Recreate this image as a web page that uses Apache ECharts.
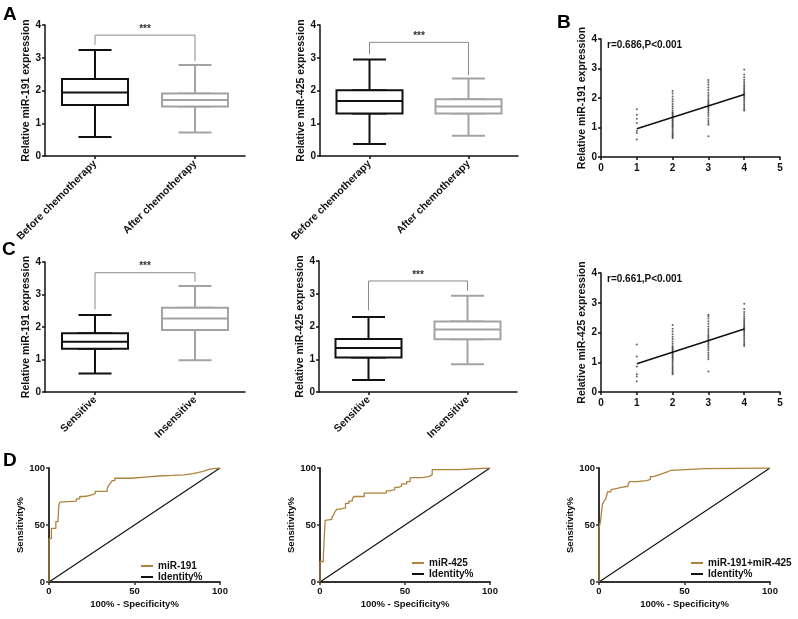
<!DOCTYPE html>
<html>
<head>
<meta charset="utf-8">
<title>miR-191 / miR-425</title>
<script src="https://cdn.jsdelivr.net/npm/echarts@6/dist/echarts.min.js"></script>
</head>
<body style="margin:0;background:#fff">
<div id="main" style="width:798px;height:619px;"></div>
<script>
// ---- values ----
var chemoCats = ['Before chemotherapy', 'After chemotherapy'];
var respCats = ['Sensitive', 'Insensitive'];

// boxes: [min, Q1, median, Q3, max]
var box191Chemo = [[0.58, 1.56, 1.94, 2.35, 3.24], [0.72, 1.51, 1.71, 1.91, 2.78]];
var box425Chemo = [[0.37, 1.30, 1.68, 2.01, 2.95], [0.62, 1.30, 1.51, 1.73, 2.37]];
var box191Resp = [[0.57, 1.33, 1.55, 1.81, 2.37], [0.98, 1.91, 2.26, 2.59, 3.26]];
var box425Resp = [[0.37, 1.05, 1.34, 1.62, 2.29], [0.85, 1.61, 1.91, 2.15, 2.94]];

// significance brackets: [left foot, bar, right foot]
var br191Chemo = [3.39, 3.69, 2.90];
var br425Chemo = [3.10, 3.47, 2.47];
var br191Resp = [2.54, 3.67, 3.39];
var br425Resp = [2.49, 3.39, 3.09];

// correlation panels, one list of y per grade
var grades = [1, 2, 3, 4];
var scat191 = [
    [0.59, 0.81, 0.89, 1.15, 1.30, 1.43, 1.62],
    [0.64, 0.68, 0.72, 0.76, 0.80, 0.85, 0.90, 0.95, 1.00, 1.04, 1.08, 1.12, 1.16, 1.20, 1.24, 1.28, 1.32, 1.36, 1.40, 1.44, 1.48, 1.52, 1.58, 1.65, 1.72, 1.80, 1.88, 1.96, 2.05, 2.15, 2.24],
    [0.70, 1.09, 1.15, 1.22, 1.30, 1.38, 1.45, 1.52, 1.58, 1.63, 1.68, 1.72, 1.76, 1.80, 1.85, 1.90, 1.96, 2.03, 2.10, 2.18, 2.27, 2.36, 2.45, 2.53, 2.61],
    [1.58, 1.62, 1.67, 1.73, 1.79, 1.85, 1.91, 1.97, 2.02, 2.07, 2.11, 2.15, 2.19, 2.23, 2.28, 2.33, 2.38, 2.43, 2.49, 2.55, 2.62, 2.70, 2.80, 2.97]
];
var scat425 = [
    [0.36, 0.52, 0.60, 0.86, 1.19, 1.60],
    [0.60, 0.64, 0.68, 0.73, 0.78, 0.83, 0.88, 0.94, 1.00, 1.05, 1.10, 1.14, 1.18, 1.22, 1.26, 1.30, 1.34, 1.38, 1.42, 1.46, 1.50, 1.55, 1.62, 1.70, 1.78, 1.86, 1.94, 2.03, 2.13, 2.25],
    [0.69, 1.10, 1.17, 1.24, 1.32, 1.40, 1.47, 1.53, 1.59, 1.64, 1.69, 1.73, 1.77, 1.82, 1.87, 1.92, 1.98, 2.05, 2.12, 2.20, 2.29, 2.38, 2.47, 2.55, 2.60],
    [1.55, 1.60, 1.65, 1.71, 1.77, 1.83, 1.89, 1.95, 2.01, 2.06, 2.10, 2.14, 2.18, 2.22, 2.27, 2.32, 2.37, 2.42, 2.48, 2.54, 2.61, 2.69, 2.79, 2.97]
];
var fit191 = [[1, 0.96], [4, 2.12]];
var fit425 = [[1, 0.95], [4, 2.12]];
var r191 = 'r=0.686,P<0.001';
var r425 = 'r=0.661,P<0.001';

// ROC curves, [100-specificity, sensitivity]
var roc191 = [[0,0],[0,38],[1.4,38],[1.4,47],[4,47],[4,53],[5.3,53],[5.3,56],[5.8,56],[5.8,68],[6.4,68],[6.4,70],[7.5,70],[7.5,71],
    [16,71],[16,73],[18,73],[18,75],[21,75],[21,76],[24,76],[24,77.5],[27,77.5],[27,79.5],[34,79.5],[34,82],[35,82],[35,85],[36,85],
    [36,87],[37,87],[37,89],[38.5,89],[38.5,91],[48,91],[48,92],[56,92],[56,93],[64,93],[64,93.5],[72,93.5],[72,94],[79,94],[79,95],
    [84,95],[84,96],[87,96],[87,97],[90,97],[90,98.5],[93,98.5],[93,99.4],[96,99.4],[96,100],[100,100]];
var roc425 = [[0,0],[0,18],[2,18],[2,23],[3,23],[3,54],[4,54],[4,55],[7,55],[7,57],[8,57],[8,59],[9,59],[9,62],[10,62],[10,64],
    [12,64],[12,65],[15,65],[15,69],[17,69],[17,71],[19,71],[19,73],[20,73],[20,75],[26,75],[26,78],[39,78],[39,80],[41,80],[41,81],
    [44,81],[44,83],[46,83],[46,84],[48,84],[48,86],[51,86],[51,88],[53,88],[53,91.5],[60,91.5],[60,92.5],[64,92.5],[64,94],[66,94],
    [66,98.5],[82,98.5],[82,100],[100,100]];
var rocBoth = [[0,0],[0,47],[1,47],[1,54],[1.5,54],[1.5,62],[2,62],[2,68],[3,68],[3,71],[4,71],[4,73],[4.5,73],[4.5,76],[5,76],
    [5,79],[7,79],[7,81],[8,81],[8,82],[10,82],[10,83],[13,83],[13,84],[17,84],[17,86],[18,86],[18,88],[22,88],[22,89],[28,89],
    [28,90],[30,90],[30,92.5],[32,92.5],[32,94],[35,94],[35,95],[37,95],[37,96.5],[40,96.5],[40,98],[42,98],[42,99.4],[62,99.4],
    [62,100],[100,100]];
var identity = [[0, 0], [100, 100]];

// ---- drawing ----
var FONT = '"Liberation Sans", Arial, sans-serif';
var INK = '#111';
var boxInk = ['#111', '#a3a3a3'];
var rocInk = '#b0823f';

var chart = echarts.init(document.getElementById('main'));

var grids = [], xAxes = [], yAxes = [], series = [], legends = [], graphics = [], stars = [];

function merge(a, b) {
    for (var k in b) {
        if (b[k] && typeof b[k] === 'object' && !Array.isArray(b[k]) && a[k] && typeof a[k] === 'object') {
            merge(a[k], b[k]);
        } else {
            a[k] = b[k];
        }
    }
    return a;
}

function axisStyle(extra) {
    return merge({
        axisLine: {show: true, onZero: false, lineStyle: {color: INK, width: 1.5}},
        axisTick: {show: true, length: 3, lineStyle: {color: INK, width: 1.5}},
        axisLabel: {color: INK, fontSize: 10, fontWeight: 'bold', fontFamily: FONT, margin: 4},
        splitLine: {show: false},
        nameLocation: 'middle',
        nameTextStyle: {color: INK, fontSize: 10.5, fontWeight: 'bold', fontFamily: FONT}
    }, extra);
}

function addBoxPanel(rect, cats, vals, bracket, yName) {
    var g = grids.length, xi = xAxes.length, yi = yAxes.length;
    grids.push(rect);
    xAxes.push(axisStyle({
        type: 'category', gridIndex: g, data: cats,
        axisTick: {alignWithLabel: true},
        axisLabel: {rotate: 45, interval: 0, fontSize: 10.5, margin: 6}
    }));
    // hidden twin axis so the whisker layer is not laid out side by side with the boxes
    xAxes.push({type: 'category', gridIndex: g, data: cats, show: false});
    yAxes.push(axisStyle({
        type: 'value', gridIndex: g, min: 0, max: 4, interval: 1,
        name: yName, nameGap: 12
    }));
    // whiskers and caps
    series.push({
        type: 'boxplot', xAxisIndex: xi + 1, yAxisIndex: yi, boxWidth: [33, 33], silent: true,
        itemStyle: {color: '#fff', borderWidth: 2},
        data: vals.map(function (v, k) { return {value: v, itemStyle: {borderColor: boxInk[k]}}; })
    });
    // the wider box drawn over it
    series.push({
        type: 'boxplot', xAxisIndex: xi, yAxisIndex: yi, boxWidth: [66, 66], silent: true,
        itemStyle: {color: '#fff', borderWidth: 2},
        data: vals.map(function (v, k) {
            return {value: [v[1], v[1], v[2], v[3], v[3]], itemStyle: {borderColor: boxInk[k]}};
        })
    });
    series.push({
        type: 'line', xAxisIndex: xi, yAxisIndex: yi, symbol: 'none', silent: true,
        lineStyle: {color: '#8a8a8a', width: 1},
        data: [[0, bracket[0]], [0, bracket[1]], [1, bracket[1]], [1, bracket[2]]]
    });
    stars.push({xi: xi, yi: yi, y: bracket[1]});
}

function addScatterPanel(rect, cols, fit, yName, rText) {
    var g = grids.length, xi = xAxes.length, yi = yAxes.length;
    grids.push(rect);
    xAxes.push(axisStyle({type: 'value', gridIndex: g, min: 0, max: 5, interval: 1, axisLabel: {margin: 6}}));
    yAxes.push(axisStyle({type: 'value', gridIndex: g, min: 0, max: 4, interval: 1, name: yName, nameGap: 12}));
    var pts = [];
    cols.forEach(function (col, k) {
        col.forEach(function (y) { pts.push([grades[k], y]); });
    });
    series.push({
        type: 'scatter', xAxisIndex: xi, yAxisIndex: yi, symbolSize: 2, silent: true,
        itemStyle: {color: '#3a3a3a'}, data: pts
    });
    series.push({
        type: 'line', xAxisIndex: xi, yAxisIndex: yi, symbol: 'none', silent: true,
        lineStyle: {color: INK, width: 1.5}, data: fit
    });
    graphics.push({
        type: 'text', left: rect.left + 6, top: rect.top + 1,
        style: {text: rText, fill: INK, font: 'bold 10px ' + FONT}
    });
}

function addRocPanel(rect, curve, name, legLeft, legTop) {
    var g = grids.length, xi = xAxes.length, yi = yAxes.length;
    grids.push(rect);
    function rocAxis() {
        return {
            axisLine: {lineStyle: {color: '#333', width: 2}},
            axisTick: {lineStyle: {color: '#333'}},
            axisLabel: {fontSize: 9.5},
            nameTextStyle: {fontSize: 9.5}
        };
    }
    xAxes.push(axisStyle(merge({type: 'value', gridIndex: g, min: 0, max: 100, interval: 50,
        name: '100% - Specificity%', nameGap: 17}, rocAxis())));
    yAxes.push(axisStyle(merge({type: 'value', gridIndex: g, min: 0, max: 100, interval: 50,
        name: 'Sensitivity%', nameGap: 21}, rocAxis())));
    series.push({
        name: 'Identity%', type: 'line', xAxisIndex: xi, yAxisIndex: yi, symbol: 'none', silent: true,
        itemStyle: {color: INK}, lineStyle: {color: INK, width: 1.2}, data: identity
    });
    series.push({
        name: name, type: 'line', xAxisIndex: xi, yAxisIndex: yi, symbol: 'none', silent: true,
        itemStyle: {color: rocInk}, lineStyle: {color: rocInk, width: 1.3}, data: curve
    });
    legends.push({
        data: [name, 'Identity%'], orient: 'vertical', left: legLeft, top: legTop,
        icon: 'rect', itemWidth: 12, itemHeight: 2, itemGap: 1, selectedMode: false,
        textStyle: {color: INK, fontSize: 10, fontWeight: 'bold', fontFamily: FONT, lineHeight: 10}
    });
}

addBoxPanel({left: 45, top: 25, width: 200, height: 131}, chemoCats, box191Chemo, br191Chemo, 'Relative miR-191 expression');
addBoxPanel({left: 320, top: 25, width: 198, height: 131}, chemoCats, box425Chemo, br425Chemo, 'Relative miR-425 expression');
addScatterPanel({left: 601, top: 39, width: 179, height: 118}, scat191, fit191, 'Relative miR-191 expression', r191);
addBoxPanel({left: 45, top: 262, width: 200, height: 130}, respCats, box191Resp, br191Resp, 'Relative miR-191 expression');
addBoxPanel({left: 319, top: 261, width: 198, height: 131}, respCats, box425Resp, br425Resp, 'Relative miR-425 expression');
addScatterPanel({left: 601, top: 273, width: 179, height: 119}, scat425, fit425, 'Relative miR-425 expression', r425);
addRocPanel({left: 49, top: 468, width: 171, height: 114}, roc191, 'miR-191', 136, 556);
addRocPanel({left: 320, top: 468, width: 170, height: 114}, roc425, 'miR-425', 407, 553);
addRocPanel({left: 599, top: 468, width: 171, height: 114}, rocBoth, 'miR-191+miR-425', 686, 553);

[['A', 3, 5], ['B', 557, 13], ['C', 2, 240], ['D', 3, 451]].forEach(function (p) {
    graphics.push({type: 'text', left: p[1], top: p[2], style: {text: p[0], fill: '#000', font: 'bold 19px ' + FONT}});
});

chart.setOption({
    animation: false,
    backgroundColor: '#fff',
    textStyle: {fontFamily: FONT},
    grid: grids,
    xAxis: xAxes,
    yAxis: yAxes,
    legend: legends,
    series: series
});

// "***" over each bracket
stars.forEach(function (s) {
    var finder = {xAxisIndex: s.xi, yAxisIndex: s.yi};
    var p0 = chart.convertToPixel(finder, [0, s.y]);
    var p1 = chart.convertToPixel(finder, [1, s.y]);
    graphics.push({
        type: 'text', x: (p0[0] + p1[0]) / 2, y: p0[1] - 1,
        style: {text: '***', fill: '#333', font: 'bold 10px ' + FONT, align: 'center', verticalAlign: 'bottom'}
    });
});
chart.setOption({graphic: graphics});
</script>
</body>
</html>
